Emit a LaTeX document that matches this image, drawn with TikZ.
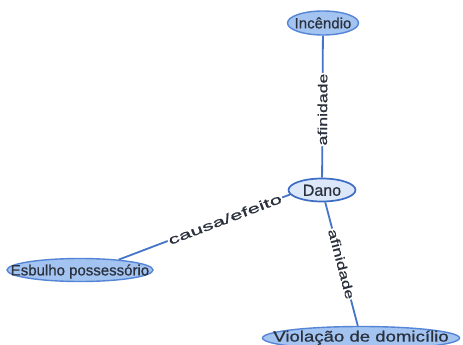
\documentclass[tikz,border=0pt]{standalone}
\usepackage{fontspec}
\setmainfont{Liberation Sans}
\newfontfamily\heavysans{Liberation Sans}[FakeBold=0.7]
\usetikzlibrary{shapes.geometric}
\definecolor{edgeblue}{HTML}{4674C8}
\definecolor{leaffill}{HTML}{A3C3F0}
\definecolor{leafline}{HTML}{5585D6}
\definecolor{hubfill}{HTML}{DCE8FA}
\definecolor{hubline}{HTML}{3C6CC4}
\definecolor{ink}{HTML}{2A303C}
% node text is set in a box of no size, so the ellipse keeps its given size
\newcommand{\nosizetext}[1]{\makebox[0pt]{\smash{#1}}}
\tikzset{
  leaf/.style={ellipse, draw=leafline, fill=leaffill, line width=1.4pt,
    inner sep=0pt, text=ink, font=\heavysans\fontsize{15}{15}\selectfont,
    minimum height=23pt},
  hub/.style={ellipse, draw=hubline, fill=hubfill, line width=1.7pt,
    inner sep=0pt, text=ink, font=\heavysans\fontsize{16}{16}\selectfont,
    minimum height=23pt},
  link/.style={draw=edgeblue, line width=1.8pt},
  tag/.style={fill=white, inner sep=0.8pt, text=ink, sloped,
    font=\heavysans\fontsize{13}{13}\selectfont}
}
\begin{document}
\begin{tikzpicture}[x=1pt, y=-1pt]
  \useasboundingbox (0,0) rectangle (463,345);
  \fill[white] (0,0) rectangle (463,345);

  \node[leaf, minimum width=71pt, minimum height=24pt] (inc) at (323,23)
    {\nosizetext{\raisebox{-0.36em}{Incêndio}}};
  \node[hub, minimum width=67pt] (dano) at (322,190)
    {\nosizetext{\raisebox{-0.36em}{Dano}}};
  \node[leaf, minimum width=146pt] (esb) at (80,270)
    {\nosizetext{\raisebox{-0.36em}{Esbulho possessório}}};
  \node[leaf, minimum width=197pt] (viol) at (361,338)
    {\nosizetext{\raisebox{-0.24em}{\scalebox{1.24}[1]{Violação de domicílio}}}};

  \draw[link] (dano) -- node[tag, pos=0.48]
    {\scalebox{1.36}[1]{afinidade}} (inc);
  \draw[link] (dano) -- node[tag, pos=0.5]
    {\scalebox{1.36}[1]{afinidade}} (viol);
  \draw[link] (dano.188) -- node[tag, pos=0.38]
    {\scalebox{1.72}[1]{causa/efeito}} (esb.15);
\end{tikzpicture}
\end{document}
